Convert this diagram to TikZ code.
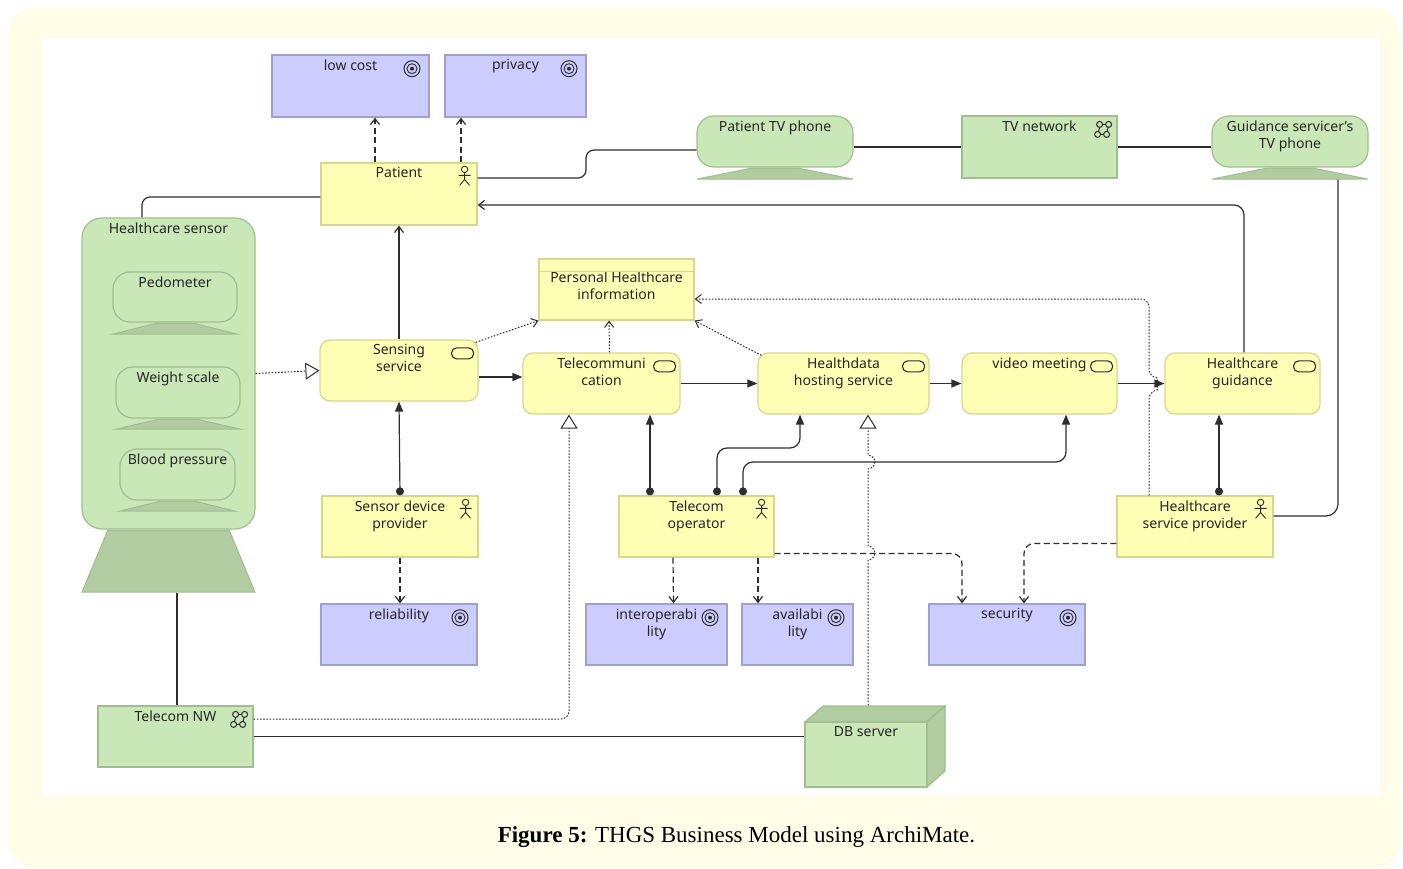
\documentclass[tikz,border=0pt]{standalone}
\usepackage{fontspec}
\setmainfont{Noto Sans}
\newfontfamily\capfont{Liberation Serif}
\usetikzlibrary{shapes.geometric, shapes.misc, arrows.meta, positioning, calc}
\definecolor{pagecream}{RGB}{255, 252, 232}
\definecolor{bizfill}{RGB}{255, 255, 181}
\definecolor{bizline}{RGB}{214, 214, 140}
\definecolor{techfill}{RGB}{201, 231, 183}
\definecolor{techline}{RGB}{160, 190, 145}
\definecolor{techdark}{RGB}{176, 204, 160}
\definecolor{goalfill}{RGB}{204, 204, 255}
\definecolor{goalline}{RGB}{160, 160, 205}
\definecolor{inkgrey}{RGB}{45, 45, 45}
\tikzset{
  x=1pt, y=-1pt,
  sized/.style 2 args={minimum width=#1pt, minimum height=#2pt},
  toplabel/.style={anchor=north, align=center, inner sep=0pt, yshift=-5pt, text=black!85,
    font=\fontsize{14}{17}\selectfont},
  toptext/.style={label={[toplabel]north:{#1}}},
  bizrect/.style={draw=bizline, fill=bizfill, line width=1.2pt, inner sep=0pt},
  bizround/.style={bizrect, rounded corners=10pt},
  techrect/.style={draw=techline, fill=techfill, line width=1.2pt, inner sep=0pt},
  techround/.style={techrect, rounded corners=17pt},
  devbase/.style={trapezium, trapezium stretches=true, trapezium left angle=40, trapezium right angle=40,
    draw=techline, fill=techdark, line width=1pt, inner sep=1pt},
  goalbox/.style={chamfered rectangle, chamfered rectangle sep=12pt, draw=goalline, fill=goalfill, line width=1.2pt, inner sep=0pt},
  conn/.style={draw=inkgrey, line width=1.2pt},
  dashconn/.style={conn, dash pattern=on 6pt off 3.5pt, -{Straight Barb[length=6pt,width=9pt]}},
  dotconn/.style={conn, line width=1pt, dash pattern=on 1.6pt off 1.6pt},
  openarrow/.style={-{Straight Barb[length=6pt,width=9pt]}},
  fillarrow/.style={-{Triangle[length=10pt,width=8pt]}},
  dotarrow/.style={{Circle[length=8pt,width=8pt]}-{Triangle[length=10pt,width=8pt]}},
  hollowarrow/.style={-{Triangle[length=14pt,width=17pt,fill=white]}},
  actoricon/.pic={
    \draw[inkgrey, line width=.9pt] (0,-7) circle (3.2);
    \draw[inkgrey, line width=.9pt] (0,-4) -- (0,3) (-6,-1) -- (6,-1) (-5,9) -- (0,3) -- (5,9);
  },
  goalicon/.pic={
    \draw[inkgrey, line width=1pt, fill=goalfill] (0,0) circle (8);
    \draw[inkgrey, line width=.9pt] (0,0) circle (5);
    \fill[inkgrey] (0,0) circle (2);
  },
  serviceicon/.pic={
    \draw[inkgrey, line width=1.1pt, rounded corners=5pt] (-11,-5.5) rectangle (11,5.5);
  },
  networkicon/.pic={
    \draw[inkgrey, line width=1pt] (-2,-5) -- (6,-5) -- (4,5) -- (-5,5) -- cycle;
    \foreach \cx/\cy in {-3/-5, 6/-5, -5/5, 4/5}
      \draw[inkgrey, line width=1pt, fill=techfill] (\cx,\cy) circle (3);
  },
}
\begin{document}
\begin{tikzpicture}
  \useasboundingbox (0,0) rectangle (1403,869);
  \fill[white] (0,0) rectangle (1403,869);
  \fill[pagecream, rounded corners=26pt] (8,8) rectangle (1400,868);
  \fill[white] (42,38) rectangle (1380,796);
  \node[font=\capfont\fontsize{23}{27}\selectfont] (caption) at (736.5,837) {\textbf{Figure 5:} THGS Business Model using ArchiMate.};

  % goals
  \node[goalbox, sized={157}{62}, toptext={low cost}] (lowcost) at (350.5,86) {};
  \node[goalbox, sized={141}{62}, toptext={privacy}] (privacy) at (515.5,86) {};
  \node[goalbox, sized={156}{61}, toptext={reliability}] (reliability) at (399,634.5) {};
  \node[goalbox, sized={141}{61}, toptext={interoperabi\\lity}] (interop) at (656.5,634.5) {};
  \node[goalbox, sized={111}{61}, toptext={availabi\\lity}] (avail) at (797.5,634.5) {};
  \node[goalbox, sized={156}{61}, toptext={security}] (security) at (1007,634.5) {};

  % business layer
  \node[bizrect, sized={156}{62}, toptext={Patient}] (patient) at (399,194) {};
  \node[bizrect, sized={156}{61}, toptext={Sensor device\\provider}] (sensorprov) at (400,526.5) {};
  \node[bizrect, sized={155}{61}, toptext={Telecom\\operator}] (operator) at (696.5,526.5) {};
  \node[bizrect, sized={156}{61}, toptext={Healthcare\\service provider}] (provider) at (1195,526.5) {};
  \node[bizrect, sized={155}{61}, label={[toplabel, yshift=-8pt]north:{Personal Healthcare\\information}}] (personal) at (616.5,289.5) {};
  \draw[bizrect] ([yshift=-13pt]personal.north west) -- ([yshift=-13pt]personal.north east);
  \node[bizround, sized={158}{61}, toptext={Sensing\\service}] (sensing) at (399,370.5) {};
  \node[bizround, sized={157}{61}, toptext={Telecommuni\\cation}] (telecomm) at (601.5,383.5) {};
  \node[bizround, sized={171}{61}, toptext={Healthdata\\hosting service}] (healthdata) at (843.5,383.5) {};
  \node[bizround, sized={155}{61}, toptext={video meeting}] (video) at (1039.5,383.5) {};
  \node[bizround, sized={155}{61}, toptext={Healthcare\\guidance}] (guidserv) at (1242.5,383.5) {};

  % technology layer
  \node[techround, sized={156}{51}, toptext={Patient TV phone}] (tvphone) at (775,141.5) {};
  \node[devbase, sized={156}{11}, below=0pt of tvphone] (tvphonebase) {};
  \node[techrect, sized={155}{62}, toptext={TV network}] (tvnet) at (1039.5,147) {};
  \node[techround, sized={156}{51}, toptext={Guidance servicer's\\TV phone}] (guidance) at (1290,141.5) {};
  \node[devbase, sized={156}{11}, below=0pt of guidance] (guidancebase) {};
  \node[techrect, rounded corners=20pt, sized={173}{311}, toptext={Healthcare sensor}] (sensor) at (168.5,373.5) {};
  \node[devbase, trapezium left angle=78, trapezium right angle=78, sized={173}{62}, below=0pt of sensor] (sensorbase) {};
  \node[techround, sized={124}{50}, toptext={Pedometer}] (pedometer) at (175,297) {};
  \node[devbase, sized={124}{11}, below=0pt of pedometer] (pedometerbase) {};
  \node[techround, sized={124}{51}, toptext={Weight scale}] (weight) at (178,392.5) {};
  \node[devbase, sized={124}{10}, below=0pt of weight] (weightbase) {};
  \node[techround, sized={115}{51}, toptext={Blood pressure}] (blood) at (177.5,474.5) {};
  \node[devbase, sized={115}{10}, below=0pt of blood] (bloodbase) {};
  \node[techrect, sized={155}{61}, toptext={Telecom NW}] (telecomnw) at (175.5,736.5) {};
  \filldraw[fill=techdark, draw=techline, line width=1.2pt] (805,722) -- ++(18,-16) -- ++(122,0) -- (927,722) -- cycle;
  \filldraw[fill=techdark, draw=techline, line width=1.2pt] (927,722) -- ++(18,-16) -- ++(0,65) -- (927,787) -- cycle;
  \node[techrect, sized={122}{65}, toptext={DB server}] (dbserver) at (866,754.5) {};
  \coordinate (dbtop) at ([xshift=2pt,yshift=16pt]dbserver.north);

  % icons
  \foreach \n in {patient, sensorprov, operator, provider}
    \pic at ([xshift=-13pt,yshift=-14pt]\n.north east) {actoricon};
  \foreach \n in {lowcost, privacy, reliability, interop, avail, security}
    \pic at ([xshift=-17pt,yshift=-14pt]\n.north east) {goalicon};
  \foreach \n in {sensing, telecomm, healthdata, video, guidserv}
    \pic at ([xshift=-16pt,yshift=-14pt]\n.north east) {serviceicon};
  \foreach \n in {tvnet, telecomnw}
    \pic at ([xshift=-15pt,yshift=-14pt]\n.north east) {networkicon};

  % plain lines
  \draw[conn, rounded corners=8pt] ([yshift=16pt]patient.east) -- (586,178) -- (586,150) -- ([yshift=-8.5pt]tvphone.west);
  \draw[conn] ([yshift=-5.5pt]tvphone.east) -- (tvnet.west);
  \draw[conn] (tvnet.east) -- ([yshift=-5.5pt]guidance.west);
  \draw[conn, rounded corners=12pt] ([xshift=48pt]guidancebase.south) |- ([yshift=10.5pt]provider.east);
  \draw[conn, rounded corners=8pt] ([yshift=-3pt]patient.west) -| ([xshift=-26.5pt]sensor.north);
  \draw[conn] ([xshift=1.5pt]telecomnw.north) -- ([xshift=8.5pt]sensorbase.south);
  \draw[conn] (telecomnw.east) -- ([yshift=18pt]dbserver.west);

  % arrows between nodes
  \draw[conn, openarrow, rounded corners=10pt] ([xshift=1.5pt]guidserv.north) |- ([yshift=-11pt]patient.east);
  \draw[conn, openarrow] (sensing.north) -- (patient.south);
  \draw[conn, fillarrow] ([yshift=-6.5pt]sensing.east) -- ([yshift=6.5pt]telecomm.west);
  \draw[conn, fillarrow] (telecomm.east) -- (healthdata.west);
  \draw[conn, fillarrow] (healthdata.east) -- (video.west);
  \draw[conn, fillarrow] (video.east) -- (guidserv.west);
  \draw[conn, dotarrow] (sensorprov.north) -- (sensing.south);
  \draw[conn, dotarrow] ([xshift=-46.5pt]operator.north) -- ([xshift=48.5pt]telecomm.south);
  \draw[conn, dotarrow, rounded corners=10pt] ([xshift=20.5pt]operator.north) -- (717,448) -- (800,448) -- ([xshift=-43.5pt]healthdata.south);
  \draw[conn, dotarrow, rounded corners=10pt] ([xshift=46.5pt]operator.north) -- (743,462) -- (1066,462) -- ([xshift=26.5pt]video.south);
  \draw[conn, dotarrow] ([xshift=24pt]provider.north) -- ([xshift=-23.5pt]guidserv.south);

  % dashed
  \draw[dashconn] ([xshift=-24pt]patient.north) -- ([xshift=24.5pt]lowcost.south);
  \draw[dashconn] ([xshift=62pt]patient.north) -- ([xshift=-54.5pt]privacy.south);
  \draw[dashconn] (sensorprov.south) -- ([xshift=1pt]reliability.north);
  \draw[dashconn] ([xshift=-23.5pt]operator.south) -- ([xshift=17pt]interop.north);
  \draw[dashconn] ([xshift=61.5pt]operator.south) -- ([xshift=-39.5pt]avail.north);
  \draw[dashconn, rounded corners=10pt] ([yshift=-27pt]operator.east) -- (962,553.5) -- ([xshift=-45pt]security.north);
  \draw[dashconn, rounded corners=10pt] ([yshift=-17pt]provider.west) -- (1024,543.5) -- ([xshift=17pt]security.north);

  % dotted
  \draw[dotconn, openarrow] ([xshift=-3pt,yshift=-3pt]sensing.north east) -- (personal.south west);
  \draw[dotconn, openarrow] ([xshift=8pt]telecomm.north) -- ([xshift=-7.5pt]personal.south);
  \draw[dotconn, openarrow] ([xshift=4pt,yshift=-3pt]healthdata.north west) -- (personal.south east);
  \draw[dotconn, openarrow, rounded corners=8pt] ([xshift=-46pt]provider.north) -- (1149,391) .. controls (1158,390) and (1158,378) .. (1149,377) -- (1149,299) -- ([yshift=-9.5pt]personal.east);
  \draw[dotconn, hollowarrow] (sensor.east) -- (sensing.west);
  \draw[dotconn, hollowarrow, rounded corners=8pt] ([yshift=17.5pt]telecomnw.east) -- (569,719) -- ([xshift=-32.5pt]telecomm.south);
  \draw[dotconn, hollowarrow] (dbtop) -- (868,560) .. controls (877,559) and (877,547) .. (868,546) -- (868,469) .. controls (877,468) and (877,456) .. (868,455) -- ([xshift=24.5pt]healthdata.south);
\end{tikzpicture}
\end{document}
